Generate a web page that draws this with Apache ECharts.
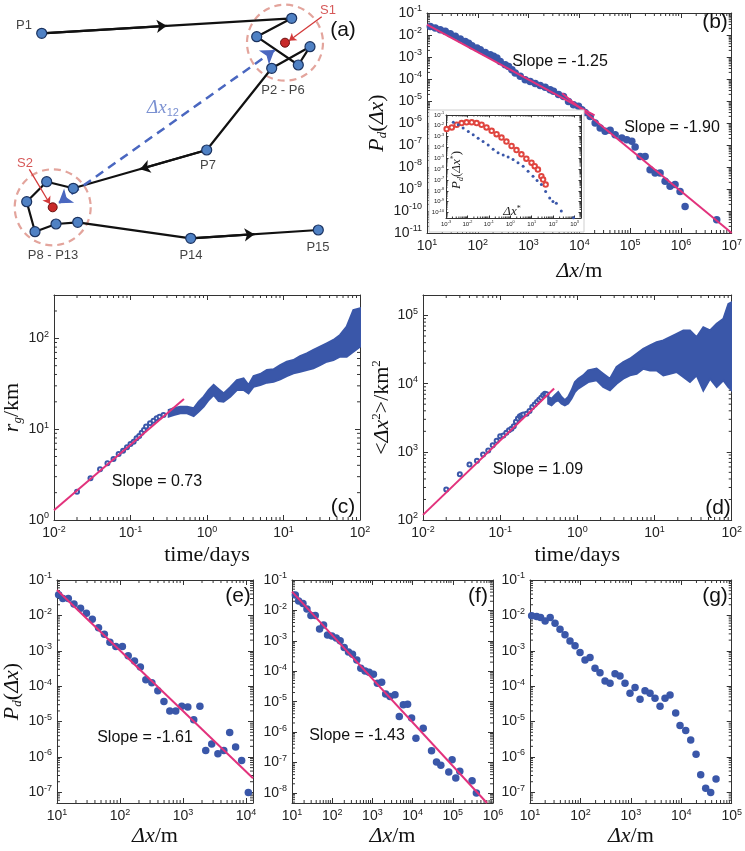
<!DOCTYPE html>
<html>
<head>
<meta charset="utf-8">
<script src="https://cdn.jsdelivr.net/npm/echarts@6/dist/echarts.min.js"></script>
<style>
  html, body { margin: 0; padding: 0; background: #fff; }
  #chart { width: 745px; height: 851px; }
</style>
</head>
<body>
<div id="chart"></div>
<script>
// ---------- panel (a): trajectory sketch, diagram units ----------
const nodeX = [41.7, 291.7, 256.7, 298.3, 310.0, 271.7, 206.7, 73.3, 46.7, 26.7, 35.0, 56.0, 77.7, 190.7, 318.3];
const nodeY = [33.3, 18.3, 36.7, 65.0, 46.7, 68.3, 150.0, 188.3, 181.7, 201.7, 231.7, 224.0, 222.3, 238.3, 230.0];
const stayX = [285.0, 52.7];   // S1, S2
const stayY = [42.7, 207.3];
const arrowSegs = [0, 6, 13];  // segments that carry a direction arrow
const nodeLabels = [["P1", 24, 25], ["P2 - P6", 283, 90], ["P7", 208, 165], ["P8 - P13", 53, 255], ["P14", 191, 255], ["P15", 318, 247]];
const stayLabels = [["S1", 328, 10], ["S2", 25, 163]];
const stayPointers = [[[321.7, 16.7], [289, 40.7]], [[29.3, 169.3], [50, 204]]];
const dxLabel = [163, 108];

// ---------- panel (b): log10 values ----------
const bX = [1.065, 1.163, 1.26, 1.36, 1.458, 1.557, 1.655, 1.753, 1.819, 1.885,
  1.983, 2.049, 2.147, 2.245, 2.311, 2.376, 2.442, 2.54, 2.606, 2.672,
  2.737, 2.836, 2.934, 3.032, 3.131, 3.229, 3.327, 3.425, 3.491, 3.59,
  3.688, 3.786, 3.885, 3.983, 4.049, 4.114, 4.213, 4.311, 4.41, 4.508,
  4.606, 4.705, 4.836, 4.934, 5.033, 5.098, 5.197, 5.295, 5.393, 5.492,
  5.59, 5.688, 5.787, 5.885, 5.983, 6.082, 6.705];
const bY = [-1.61, -1.68, -1.76, -1.83, -1.94, -2.06, -2.18, -2.29, -2.37, -2.49,
  -2.59, -2.67, -2.79, -2.90, -2.97, -3.05, -3.20, -3.35, -3.43, -3.58,
  -3.73, -3.88, -4.03, -4.11, -4.21, -4.30, -4.37, -4.49, -4.56, -4.71,
  -4.79, -5.02, -5.17, -5.24, -5.40, -5.52, -5.70, -6.00, -6.23, -6.38,
  -6.33, -6.53, -6.68, -6.76, -6.83, -7.09, -7.52, -7.52, -8.12, -8.27,
  -8.27, -8.65, -8.88, -8.80, -9.11, -9.79, -10.40];
const bFit1X = [1, 4.3], bFit1Y = [-1.53, -5.655];
const bFit2X = [3.66, 7], bFit2Y = [-4.65, -11];

// inset of (b)
const inRedX = [-2.97, -2.73, -2.50, -2.27, -2.04, -1.80, -1.57, -1.34, -1.11, -0.87, -0.64, -0.41,
  -0.18, 0.06, 0.29, 0.52, 0.75, 0.99, 1.14, 1.29, 1.45, 1.53, 1.65];
const inRedY = [-2.30, -2.15, -1.90, -1.74, -1.68, -1.68, -1.74, -1.90, -2.15, -2.46, -2.77, -3.08,
  -3.45, -3.86, -4.23, -4.63, -5.03, -5.40, -5.72, -6.03, -6.65, -6.96, -7.42];
const inBlueX = [-2.66, -2.43, -2.20, -1.96, -1.73, -1.50, -1.27, -1.03, -0.80, -0.57, -0.33, -0.10,
  0.13, 0.36, 0.60, 0.83, 1.06, 1.25, 1.45, 1.65, 1.84, 1.99, 2.15, 2.38, 2.95];
const inBlueY = [-1.68, -1.90, -2.21, -2.52, -2.83, -3.14, -3.45, -3.76, -4.17, -4.48, -4.70, -4.88,
  -5.10, -5.40, -5.72, -6.19, -6.65, -7.05, -7.42, -8.05, -8.66, -8.98, -9.13, -9.85, -10.47];

// ---------- panel (c): days / km ----------
const cT = [0.02, 0.03, 0.04, 0.05, 0.06, 0.07, 0.08, 0.09, 0.10, 0.11, 0.12, 0.13, 0.14, 0.15, 0.16, 0.18, 0.20, 0.22, 0.24, 0.27];
const cR = [2.05, 2.88, 3.62, 4.21, 4.70, 5.33, 5.80, 6.31, 6.87, 7.28, 7.94, 8.42, 9.16, 9.80, 10.7, 11.6, 12.4, 13.2, 13.7, 14.3];
// dense part, upper / lower envelope (log10)
const cBandLogT = [-0.50, -0.435, -0.348, -0.26, -0.174, -0.108, -0.043, 0.022, 0.087, 0.152, 0.217, 0.304, 0.391, 0.478, 0.543, 0.609,
  0.696, 0.783, 0.870, 0.957, 1.043, 1.130, 1.217, 1.304, 1.391, 1.478, 1.565, 1.652, 1.739, 1.826, 1.913, 2.0];
const cBandLogHi = [1.211, 1.23, 1.248, 1.248, 1.23, 1.303, 1.358, 1.432, 1.487, 1.44, 1.394, 1.461, 1.541, 1.560, 1.486, 1.585,
  1.607, 1.651, 1.659, 1.706, 1.743, 1.761, 1.805, 1.835, 1.872, 1.908, 1.945, 1.982, 2.037, 2.128, 2.312, 2.33];
const cBandLogLo = [1.138, 1.156, 1.175, 1.175, 1.145, 1.193, 1.248, 1.322, 1.377, 1.31, 1.303, 1.358, 1.431, 1.431, 1.394, 1.468,
  1.486, 1.512, 1.523, 1.549, 1.585, 1.615, 1.633, 1.651, 1.670, 1.706, 1.743, 1.761, 1.798, 1.798, 1.853, 1.908];
const cFitT = [0.01, 0.5], cFitR = [1.28, 21.5];

// ---------- panel (d): days / km^2 ----------
const dT = [0.02, 0.03, 0.04, 0.05, 0.06, 0.07, 0.08, 0.09, 0.10, 0.11, 0.12, 0.13, 0.14, 0.15, 0.16, 0.17, 0.18, 0.19, 0.20,
  0.22, 0.24, 0.26, 0.28, 0.30, 0.32, 0.34, 0.36, 0.38, 0.40];
const dV = [281, 471, 653, 738, 913, 1047, 1250, 1450, 1700, 1740, 1900, 2075, 2190, 2375, 2755, 3075, 3325, 3440, 3520,
  3630, 3980, 4550, 4930, 5385, 5830, 6240, 6740, 7140, 6980];
const dBandLogT = [-0.378, -0.334, -0.291, -0.248, -0.205, -0.162, -0.119, -0.075, -0.032, 0.011, 0.075, 0.140, 0.249, 0.335, 0.422, 0.508,
  0.595, 0.681, 0.768, 0.854, 0.941, 1.027, 1.114, 1.200, 1.286, 1.373, 1.459, 1.546, 1.632, 1.719, 1.805, 1.892, 1.957, 2.0];
const dBandLogHi = [3.805, 3.781, 3.829, 3.878, 3.805, 3.756, 3.805, 3.903, 4.024, 4.073, 4.122, 4.195, 4.220, 4.146, 4.073, 4.244,
  4.317, 4.366, 4.439, 4.512, 4.561, 4.610, 4.634, 4.683, 4.732, 4.780, 4.780, 4.683, 4.829, 4.780, 4.878, 4.951, 5.171, 5.195];
const dBandLogLo = [3.708, 3.683, 3.732, 3.756, 3.708, 3.683, 3.708, 3.781, 3.878, 3.927, 3.976, 4.024, 4.049, 3.951, 3.902, 4.000,
  4.073, 4.122, 4.146, 4.220, 4.195, 4.195, 4.122, 4.146, 4.171, 4.098, 4.024, 4.122, 3.900, 4.073, 3.951, 4.049, 3.951, 3.902];
const dFitT = [0.01, 0.5], dFitV = [119, 8470];

// ---------- panels (e) (f) (g): log10 values ----------
const eX = [1.026, 1.093, 1.18, 1.27, 1.374, 1.467, 1.56, 1.659, 1.752, 1.84, 1.934, 2.038, 2.13, 2.23, 2.323, 2.41, 2.505,
  2.6, 2.697, 2.79, 2.884, 2.98, 3.076, 3.17, 3.268, 3.36, 3.455, 3.553, 3.647, 3.74, 3.834, 3.93, 4.036];
const eY = [-1.42, -1.52, -1.52, -1.68, -1.80, -1.94, -2.11, -2.35, -2.53, -2.76, -2.88, -2.88, -3.14, -3.29, -3.46, -3.82, -3.90,
  -4.13, -4.43, -4.70, -4.70, -4.57, -4.59, -4.95, -4.57, -5.82, -5.63, -5.91, -5.82, -5.31, -5.72, -6.10, -7.00];
const eFitX = [1, 4.11], eFitY = [-1.28, -6.6];

const fX = [1.083, 1.165, 1.273, 1.372, 1.471, 1.579, 1.686, 1.785, 1.884, 1.992, 2.10, 2.198, 2.298, 2.405, 2.504, 2.612,
  2.711, 2.818, 2.917, 3.025, 3.124, 3.231, 3.33, 3.438, 3.562, 3.669, 3.769, 3.876, 3.975, 4.083, 4.264, 4.471,
  4.595, 4.702, 4.90, 4.983, 5.074, 5.174, 5.48, 5.587];
const fY = [-1.49, -1.69, -1.77, -1.95, -2.17, -2.17, -2.61, -2.48, -2.81, -2.84, -2.91, -3.00, -3.22, -3.37, -3.44, -3.63,
  -3.90, -3.99, -4.03, -4.10, -4.39, -4.36, -4.75, -4.83, -4.77, -5.49, -5.10, -5.08, -5.54, -6.20, -5.87, -6.61,
  -6.98, -7.09, -7.31, -6.91, -7.51, -7.29, -7.60, -8.00];
const fFitX = [1, 5.85], fFitY = [-1.38, -8.33];

const gX = [1.033, 1.132, 1.21, 1.30, 1.40, 1.496, 1.595, 1.694, 1.793, 1.893, 1.992, 2.091, 2.19, 2.289, 2.388, 2.488,
  2.587, 2.686, 2.785, 2.884, 2.983, 3.083, 3.182, 3.281, 3.38, 3.479, 3.579, 3.678, 3.777, 3.889, 3.975, 4.088,
  4.187, 4.293, 4.385, 4.484, 4.583, 4.689];
const gY = [-2.01, -2.03, -2.06, -2.16, -2.06, -2.22, -2.39, -2.55, -2.72, -2.86, -3.05, -3.26, -3.19, -3.49, -3.62, -3.85,
  -3.92, -3.65, -3.71, -3.92, -4.20, -4.04, -4.37, -4.13, -4.20, -4.34, -4.57, -4.34, -4.25, -4.76, -5.11, -5.25,
  -5.52, -5.92, -6.50, -6.88, -7.00, -6.62];

// ---------- styling ----------
const BLUE = "#3a57a9";
const PINK = "#e2327c";
const RED = "#e0453f";
const SANS = '"Liberation Sans", Arial, sans-serif';
const SERIF = '"Liberation Serif", "Times New Roman", serif';

const L = (v) => Math.log10(v);
const zip = (xs, ys) => xs.map((x, i) => [x, ys[i]]);
const mid = (a, b) => [(a[0] + b[0]) / 2, (a[1] + b[1]) / 2];

const grids = [];
const xAxes = [];
const yAxes = [];
const series = [];

const pow10 = (v) => {
  const r = Math.round(v);
  if (Math.abs(v - r) > 1e-6) return "";
  return "{b|10}{s|" + r + "}";
};

const titleRich = {
  i: { fontFamily: SERIF, fontStyle: "italic", fontSize: 22, color: "#111" },
  r: { fontFamily: SERIF, fontSize: 22, color: "#111" },
  sub: { fontFamily: SERIF, fontStyle: "italic", fontSize: 13, color: "#111", padding: [12, 0, 0, 0] },
  sup: { fontFamily: SERIF, fontSize: 13, color: "#111", padding: [0, 0, 12, 0] },
};

function makeAxis(gi, pos, range, o, labelled) {
  const isX = pos === "bottom" || pos === "top";
  const ax = {
    type: "value",
    gridIndex: gi,
    position: pos,
    min: range[0],
    max: range[1],
    minInterval: 1,
    maxInterval: 1,
    z: o.z || 0,
    axisLine: { show: true, onZero: false, lineStyle: { color: "#333", width: 1 } },
    axisTick: { show: true, inside: true, length: o.tick || 5, lineStyle: { color: "#333", width: 1 } },
    splitLine: { show: false },
    axisLabel: { show: false },
  };
  if (labelled) {
    const fs = o.fs || 14;
    ax.axisLabel = {
      show: true,
      margin: o.margin || 5,
      formatter: pow10,
      rich: {
        b: { fontFamily: SANS, fontSize: fs, color: "#222" },
        s: { fontFamily: SANS, fontSize: Math.round(fs * 0.64 * 10) / 10, color: "#222", padding: [0, 0, Math.round(fs * 0.6), 0] },
      },
    };
    const nm = isX ? o.xName : o.yName;
    if (nm) {
      ax.name = nm;
      ax.nameLocation = "middle";
      ax.nameGap = isX ? o.xGap : o.yGap;
      ax.nameRotate = isX ? 0 : 90;
      ax.nameTextStyle = { rich: titleRich };
    }
  }
  return ax;
}

// log-style minor ticks on all four sides
function minorTicks(p, xr, yr, o) {
  const len = o.minorLen || 3;
  return {
    type: "custom",
    xAxisIndex: p.xi,
    yAxisIndex: p.yi,
    silent: true,
    z: (o.z || 0) + 1,
    data: [[xr[0], yr[0]]],
    renderItem: (params, api) => {
      const kids = [];
      const seg = (x1, y1, x2, y2) =>
        kids.push({ type: "line", shape: { x1, y1, x2, y2 }, style: { stroke: "#333", lineWidth: 1 } });
      for (let n = Math.floor(xr[0]); n < xr[1]; n++) {
        for (let k = 2; k < 10; k++) {
          const v = n + Math.log10(k);
          if (v <= xr[0] || v >= xr[1]) continue;
          const b = api.coord([v, yr[0]]);
          const t = api.coord([v, yr[1]]);
          seg(b[0], b[1], b[0], b[1] - len);
          seg(t[0], t[1], t[0], t[1] + len);
        }
      }
      for (let n = Math.floor(yr[0]); n < yr[1]; n++) {
        for (let k = 2; k < 10; k++) {
          const v = n + Math.log10(k);
          if (v <= yr[0] || v >= yr[1]) continue;
          const l = api.coord([xr[0], v]);
          const r = api.coord([xr[1], v]);
          seg(l[0], l[1], l[0] + len, l[1]);
          seg(r[0], r[1], r[0] - len, r[1]);
        }
      }
      return { type: "group", children: kids };
    },
  };
}

function panel(rect, xr, yr, o) {
  const gi = grids.length;
  grids.push({ left: rect[0], top: rect[1], width: rect[2], height: rect[3] });
  const p = { xi: xAxes.length, yi: yAxes.length, z: o.z || 0 };
  xAxes.push(makeAxis(gi, "bottom", xr, o, true), makeAxis(gi, "top", xr, o, false));
  yAxes.push(makeAxis(gi, "left", yr, o, true), makeAxis(gi, "right", yr, o, false));
  series.push(minorTicks(p, xr, yr, o));
  return p;
}

const dots = (p, data, size, extra) => Object.assign({
  type: "scatter", xAxisIndex: p.xi, yAxisIndex: p.yi, data, symbolSize: size,
  itemStyle: { color: BLUE, opacity: 1 }, z: p.z + 3, silent: true,
}, extra || {});

const fitLine = (p, data) => ({
  type: "line", xAxisIndex: p.xi, yAxisIndex: p.yi, data, symbol: "none", showSymbol: false,
  lineStyle: { color: PINK, width: 2 }, z: p.z + 5, silent: true,
});

const band = (p, bx, hi, lo) => ({
  type: "custom", xAxisIndex: p.xi, yAxisIndex: p.yi, silent: true, clip: true, z: p.z + 3,
  data: [[bx[0], hi[0]]],
  renderItem: (params, api) => {
    const pts = [];
    for (let i = 0; i < bx.length; i++) pts.push(api.coord([bx[i], hi[i]]));
    for (let i = bx.length - 1; i >= 0; i--) pts.push(api.coord([bx[i], lo[i]]));
    return { type: "polygon", shape: { points: pts }, style: { fill: BLUE, stroke: BLUE, lineWidth: 2 } };
  },
});

// ---------- panel (a) ----------
grids.push({ left: 0, top: 0, width: 370, height: 290 });
xAxes.push({ type: "value", gridIndex: 0, min: 0, max: 370, show: false });
yAxes.push({ type: "value", gridIndex: 0, min: 0, max: 290, inverse: true, show: false });
const A = { xAxisIndex: 0, yAxisIndex: 0, silent: true };
const nodes = zip(nodeX, nodeY);
const S1 = [stayX[0], stayY[0]];
const S2 = [stayX[1], stayY[1]];
const along = (f) => [S1[0] + (S2[0] - S1[0]) * f, S1[1] + (S2[1] - S1[1]) * f];

series.push(
  Object.assign({ type: "scatter", data: zip(stayX, stayY), symbolSize: 76, z: 2,
    itemStyle: { color: "rgba(255,255,255,0)", borderColor: "#e3a49c", borderWidth: 2.2, borderType: [7, 5], opacity: 1 } }, A),
  Object.assign({ type: "line", data: nodes, symbol: "none", showSymbol: false, z: 3,
    lineStyle: { color: "#111", width: 2.2 } }, A),
  Object.assign({ type: "lines", coordinateSystem: "cartesian2d", symbol: ["none", "arrow"], symbolSize: 10, z: 4,
    lineStyle: { color: "#111", width: 2.2, opacity: 1 },
    data: arrowSegs.map((i) => ({ coords: [nodes[i], mid(nodes[i], nodes[i + 1])] })) }, A),
  Object.assign({ type: "lines", coordinateSystem: "cartesian2d", symbol: ["arrow", "arrow"], symbolSize: 13, z: 5,
    lineStyle: { color: "#4a67c0", width: 2.5, type: [9, 6], opacity: 1 },
    data: [{ coords: [along(0.045), along(0.975)] }] }, A),
  Object.assign({ type: "lines", coordinateSystem: "cartesian2d", symbol: ["none", "arrow"], symbolSize: 7, z: 5,
    lineStyle: { color: "#d33a3a", width: 1.3, opacity: 1 },
    data: stayPointers.map((c) => ({ coords: c })) }, A),
  Object.assign({ type: "scatter", data: nodes, symbolSize: 10, z: 6,
    itemStyle: { color: "#4f81c4", borderColor: "#1b3360", borderWidth: 1.2, opacity: 1 } }, A),
  Object.assign({ type: "scatter", data: zip(stayX, stayY), symbolSize: 9, z: 6,
    itemStyle: { color: "#c82a2a", borderColor: "#6a1010", borderWidth: 1, opacity: 1 } }, A),
  Object.assign({ type: "scatter", symbolSize: 0, z: 7,
    data: nodeLabels.map((d) => ({ name: d[0], value: [d[1], d[2]] })),
    label: { show: true, position: "inside", formatter: "{b}", fontFamily: SANS, fontSize: 13, color: "#111" } }, A),
  Object.assign({ type: "scatter", symbolSize: 0, z: 7,
    data: stayLabels.map((d) => ({ name: d[0], value: [d[1], d[2]] })),
    label: { show: true, position: "inside", formatter: "{b}", fontFamily: SANS, fontSize: 13, color: "#cc2e2e" } }, A),
  Object.assign({ type: "scatter", symbolSize: 0, z: 7,
    data: [{ name: "dx", value: dxLabel }],
    label: { show: true, position: "inside", formatter: "{i|Δx}{s|12}",
      rich: { i: { fontFamily: SERIF, fontStyle: "italic", fontSize: 19, color: "#5a76c6" },
        s: { fontFamily: SANS, fontSize: 11, color: "#5a76c6", padding: [9, 0, 0, 0] } } } }, A)
);

// ---------- panel (b) and inset ----------
const pb = panel([427, 13, 305, 220], [1, 7], [-11, -1], {
  xName: "{i|Δx}{r|/m}", xGap: 27, yName: "{i|P}{sub|d}{r|(}{i|Δx}{r|)}", yGap: 31,
});
series.push(dots(pb, zip(bX, bY), 7.5), fitLine(pb, zip(bFit1X, bFit1Y)), fitLine(pb, zip(bFit2X, bFit2Y)));

const pin = panel([446, 115, 135, 103], [-3, 3.3], [-10.5, -1], { fs: 6, margin: 2, tick: 2.5, minorLen: 1.5, z: 20 });
series.push(
  dots(pin, zip(inRedX, inRedY), 4.5, { symbol: "emptyCircle", itemStyle: { color: RED, borderWidth: 0.9, opacity: 1 } }),
  dots(pin, zip(inBlueX, inBlueY), 3)
);

// ---------- panels (c) (d) ----------
const pc = panel([53, 295, 307, 225], [-2, 2], [0, L(300)], {
  xName: "{r|time/days}", xGap: 24, yName: "{i|r}{sub|g}{r|/km}", yGap: 27,
});
series.push(
  band(pc, cBandLogT, cBandLogHi, cBandLogLo),
  dots(pc, zip(cT.map(L), cR.map(L)), 4, { symbol: "emptyCircle", itemStyle: { color: BLUE, borderWidth: 1, opacity: 1 } }),
  fitLine(pc, zip(cFitT.map(L), cFitR.map(L)))
);

const pd = panel([423, 295, 309, 225], [-2, 2], [2, L(2e5)], {
  xName: "{r|time/days}", xGap: 24, yName: "{r|<}{i|Δx}{sup|2}{r|>/km}{sup|2}", yGap: 26,
});
series.push(
  band(pd, dBandLogT, dBandLogHi, dBandLogLo),
  dots(pd, zip(dT.map(L), dV.map(L)), 4, { symbol: "emptyCircle", itemStyle: { color: BLUE, borderWidth: 1, opacity: 1 } }),
  fitLine(pd, zip(dFitT.map(L), dFitV.map(L)))
);

// ---------- panels (e) (f) (g) ----------
const xm = "{i|Δx}{r|/m}";
const pe = panel([53, 580, 200, 223], [1, 4.11], [-7.3, -1], {
  xName: xm, xGap: 22, yName: "{i|P}{sub|d}{r|(}{i|Δx}{r|)}", yGap: 29,
});
series.push(dots(pe, zip(eX, eY), 7.5), fitLine(pe, zip(eFitX, eFitY)));

const pf = panel([292, 580, 201, 223], [1, 6], [-8.33, -1], { xName: xm, xGap: 22 });
series.push(dots(pf, zip(fX, fY), 7.5), fitLine(pf, zip(fFitX, fFitY)));

const pg = panel([530, 580, 202, 223], [1, 5], [-7.3, -1], { xName: xm, xGap: 22 });
series.push(dots(pg, zip(gX, gY), 7.5));

// ---------- annotations ----------
const notes = [
  ["(a)", 343, 30, 21], ["(b)", 715, 22, 21], ["(c)", 343, 507, 21], ["(d)", 718, 508, 21],
  ["(e)", 238, 596, 21], ["(f)", 478, 596, 21], ["(g)", 715, 596, 21],
  ["Slope = -1.25", 560, 62, 16], ["Slope = -1.90", 672, 128, 16],
  ["Slope = 0.73", 157, 482, 16], ["Slope = 1.09", 538, 470, 16],
  ["Slope = -1.61", 145, 738, 16], ["Slope = -1.43", 357, 736, 16],
];
const insetRich = {
  i: { fontFamily: SERIF, fontStyle: "italic", fontSize: 13, fill: "#222" },
  r: { fontFamily: SERIF, fontSize: 13, fill: "#222" },
  sub: { fontFamily: SERIF, fontStyle: "italic", fontSize: 8, fill: "#222", padding: [7, 0, 0, 0] },
  sup: { fontFamily: SERIF, fontSize: 8, fill: "#222", padding: [0, 0, 7, 0] },
};
const graphic = [
  { type: "rect", z: 10, shape: { x: 429, y: 110, width: 155, height: 122 },
    style: { fill: "#fff", stroke: "#cfcfcf", lineWidth: 1 } },
  { type: "text", z: 40, x: 457, y: 170, rotation: Math.PI / 2,
    style: { text: "{i|P}{sub|d}{r|(}{i|Δx}{sup|*}{r|)}", rich: insetRich, align: "center", verticalAlign: "middle" } },
  { type: "text", z: 40, x: 512, y: 212,
    style: { text: "{i|Δx}{sup|*}", rich: insetRich, align: "center", verticalAlign: "middle" } },
].concat(notes.map((n) => ({
  type: "text", z: 50, x: n[1], y: n[2],
  style: { text: n[0], fill: "#111", font: n[3] + "px " + SANS, align: "center", verticalAlign: "middle" },
})));

const chart = echarts.init(document.getElementById("chart"), null, { renderer: "canvas" });
chart.setOption({
  animation: false,
  backgroundColor: "#fff",
  grid: grids,
  xAxis: xAxes,
  yAxis: yAxes,
  series,
  graphic,
});
</script>
</body>
</html>
